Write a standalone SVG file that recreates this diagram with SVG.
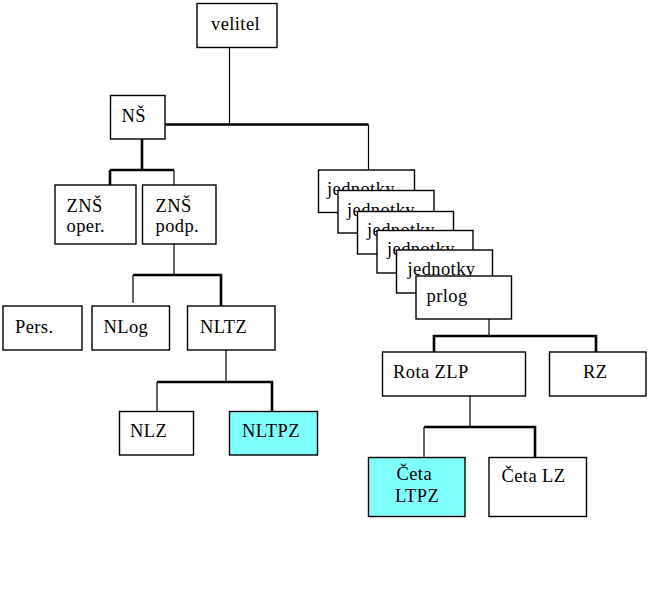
<svg xmlns="http://www.w3.org/2000/svg" width="650" height="590" viewBox="0 0 650 590">
<style>
.box{fill:#fff;stroke:#000;stroke-width:1.4}
.hl{fill:#80ffff;stroke:#000;stroke-width:1.4}
.t{font-family:"Liberation Serif","Times New Roman",serif;font-size:18.5px;letter-spacing:0.4px;fill:#000}
.thin{stroke:#000;stroke-width:1.2;fill:none}
.thick{stroke:#000;stroke-width:2.6;fill:none}
</style>
<rect width="650" height="590" fill="#fff"/>
<g id="connectors">
<path class="thin" d="M229.5 48V124.5"/>
<path class="thick" d="M165 124.5H368.5"/>
<path class="thin" d="M368.5 124.5V170"/>
<path class="thick" d="M142 139V170M110 170H174M110 170V185"/>
<path class="thin" d="M174 170V185"/>
<path class="thin" d="M174 244V275M133 275V303"/>
<path class="thick" d="M133 275H221V306"/>
<path class="thin" d="M226 350V382M157 382V411"/>
<path class="thick" d="M157 382H272V412"/>
<path class="thin" d="M489 319V336"/>
<path class="thick" d="M434 352V336H596V352"/>
<path class="thin" d="M470 396V427M424 427V457"/>
<path class="thick" d="M424 427H535V457"/>
</g>
<g id="velitel"><rect class="box" x="197" y="3.5" width="80" height="44"/><text class="t" x="211" y="30">velitel</text></g>
<g id="NS"><rect class="box" x="110.5" y="95.5" width="54.5" height="43.5"/><text class="t" x="121.5" y="122">NŠ</text></g>
<g id="ZNS-oper"><rect class="box" x="55" y="185" width="81" height="59"/><text class="t" x="66.5" y="211.5">ZNŠ</text><text class="t" x="66.5" y="232">oper.</text></g>
<g id="ZNS-podp"><rect class="box" x="142.5" y="185" width="73.5" height="59"/><text class="t" x="155.5" y="211.5">ZNŠ</text><text class="t" x="155.5" y="232">podp.</text></g>
<g id="Pers"><rect class="box" x="3" y="306" width="79" height="44"/><text class="t" x="15" y="333">Pers.</text></g>
<g id="NLog"><rect class="box" x="92" y="306" width="77.5" height="44"/><text class="t" x="103.5" y="333">NLog</text></g>
<g id="NLTZ"><rect class="box" x="187.5" y="306" width="87.5" height="44"/><text class="t" x="200" y="333">NLTZ</text></g>
<g id="NLZ"><rect class="box" x="119.5" y="411.5" width="74" height="43.5"/><text class="t" x="130" y="437">NLZ</text></g>
<g id="NLTPZ"><rect class="hl" x="229.5" y="411.5" width="88" height="43.5"/><text class="t" x="242" y="437">NLTPZ</text></g>
<g id="jednotky1"><rect class="box" x="318.5" y="170" width="96" height="42.5"/><text class="t" x="327" y="195">jednotky</text></g>
<g id="jednotky2"><rect class="box" x="338" y="190.5" width="96" height="42.5"/><text class="t" x="347" y="215.5">jednotky</text></g>
<g id="jednotky3"><rect class="box" x="357.5" y="211.5" width="96" height="42.5"/><text class="t" x="367" y="236">jednotky</text></g>
<g id="jednotky4"><rect class="box" x="377" y="230.5" width="96" height="42.5"/><text class="t" x="387" y="255">jednotky</text></g>
<g id="jednotky5"><rect class="box" x="396.5" y="250" width="96" height="43"/><text class="t" x="407.5" y="274.5">jednotky</text></g>
<g id="prlog"><rect class="box" x="416" y="276" width="95.5" height="43"/><text class="t" x="426.5" y="302">prlog</text></g>
<g id="RotaZLP"><rect class="box" x="382.5" y="352" width="143" height="44"/><text class="t" x="393" y="377.5">Rota ZLP</text></g>
<g id="RZ"><rect class="box" x="549.5" y="352" width="96.5" height="44"/><text class="t" x="583" y="377.5">RZ</text></g>
<g id="CetaLTPZ"><rect class="hl" x="368.5" y="457.5" width="96.5" height="59"/><text class="t" x="396.5" y="480">Četa</text><text class="t" x="395" y="502">LTPZ</text></g>
<g id="CetaLZ"><rect class="box" x="489" y="457.5" width="97.5" height="59"/><text class="t" x="501.5" y="482">Četa LZ</text></g>
</svg>
